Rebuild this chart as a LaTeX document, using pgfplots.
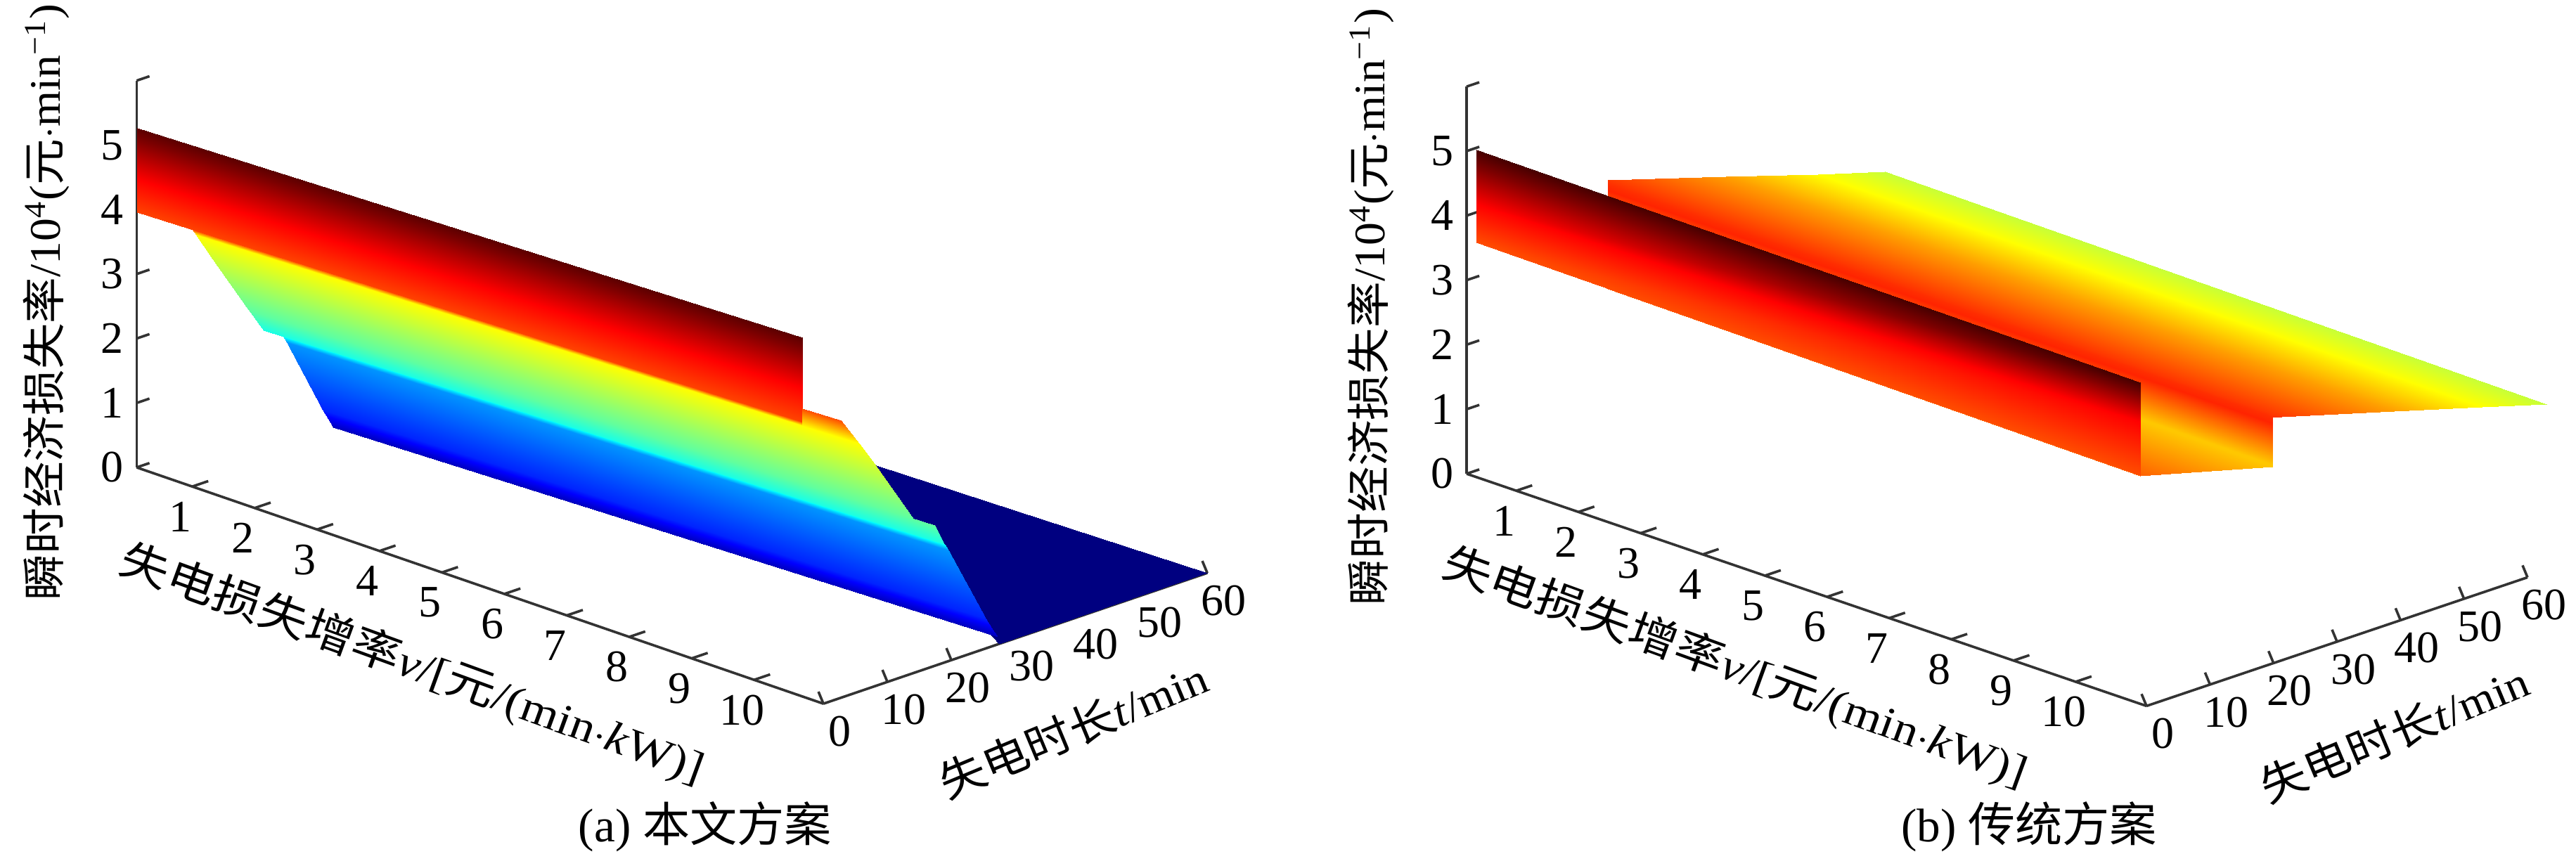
\documentclass[border=0pt]{standalone}
\usepackage{fontspec}
\usepackage{graphicx}
\usepackage{pgfplots}
\pgfplotsset{compat=1.18}
\setmainfont{Liberation Serif}
\newfontfamily\cn{Noto Sans CJK SC}

% 1 reference pixel = 0.25pt
\pgfplotsset{
  colormap={jetdark}{rgb255(0)=(0,0,128) rgb255(1)=(0,0,255) rgb255(3)=(0,255,255)
    rgb255(5)=(255,255,0) rgb255(7)=(255,0,0) rgb255(8)=(128,0,0) rgb255(8.5)=(70,0,0)},
  panel/.style={
    axis x line*=bottom, axis y line*=left, axis z line*=left,
    axis line style={draw=black!80, line width=0.9pt},
    major tick length=0pt,
    clip=false,
    ymin=0, ymax=60, zmin=0, zmax=6,
    xtick={1,...,10}, ytick={0,10,...,60}, ztick={0,...,6},
    zticklabels={0,1,2,3,4,5,},
    /pgf/number format/assume math mode=true,
    tick label style={font=\fontsize{16}{18}\selectfont},
    xticklabel style={anchor=center, xshift=-4.3pt, yshift=-10.7pt},
    yticklabel style={anchor=center, xshift=5.8pt, yshift=-9.8pt},
    zticklabel style={anchor=center, xshift=-8.7pt, yshift=0pt},
    label style={font=\fontsize{15.5}{18}\selectfont},
    colormap name=jetdark,
    point meta min=0, point meta max=1.0625,
    unbounded coords=jump,
  },
  strip/.style={surf, shader=interp, mesh/ordering=x varies, mesh/cols=2, point meta=\thisrow{c}},
  ticksegs/.style={no markers, draw=black!80, line width=0.9pt, forget plot},
}
\newcommand{\zlab}{\scalebox{1.06}[1]{{\cn 瞬时经济损失率}/10\textsuperscript{4}({\cn 元}$\cdot$min\textsuperscript{−1})}}
\newcommand{\vlab}{\scalebox{1.13}[1]{{\cn 失电损失增率}\textit{v}/[{\cn 元}/(min$\cdot$\textit{k}W)]}}
\newcommand{\tlab}{\scalebox{1.07}[1]{{\cn 失电时长}\textit{t}/min}}

\begin{document}
\begin{tikzpicture}
\path[use as bounding box] (0,0) rectangle (916pt,303.5pt);

\begin{axis}[panel, at={(48.6pt,137.25pt)}, anchor=origin,
    x={(22.2pt,-7.64pt)}, y={(2.275pt,0.775pt)}, z={(0pt,22.93pt)},
    xmin=0.11, xmax=11.11,
    xlabel={\vlab}, ylabel={\tlab}, zlabel={\zlab},
    xlabel style={at={(axis cs:4.52,0,-1.59)}, anchor=center, rotate=-20},
    ylabel style={at={(axis cs:11.11,39,-1.72)}, anchor=center, rotate=22.6},
    zlabel style={at={(axis cs:-1.34,0,2.08)}, anchor=center, rotate=0},
  ]
  % tick marks: v and z along t, t towards the reader
  \addplot3[ticksegs] coordinates {
    (1,0,0) (1,2.5,0) (1,0,nan) (2,0,0) (2,2.5,0) (2,0,nan) (3,0,0) (3,2.5,0) (3,0,nan)
    (4,0,0) (4,2.5,0) (4,0,nan) (5,0,0) (5,2.5,0) (5,0,nan) (6,0,0) (6,2.5,0) (6,0,nan)
    (7,0,0) (7,2.5,0) (7,0,nan) (8,0,0) (8,2.5,0) (8,0,nan) (9,0,0) (9,2.5,0) (9,0,nan)
    (10,0,0) (10,2.5,0)
  };
  \addplot3[ticksegs] coordinates {
    (0.11,0,0) (0.11,2,0) (0.11,0,nan) (0.11,0,1) (0.11,2,1) (0.11,0,nan)
    (0.11,0,2) (0.11,2,2) (0.11,0,nan) (0.11,0,3) (0.11,2,3) (0.11,0,nan)
    (0.11,0,4) (0.11,2,4) (0.11,0,nan) (0.11,0,5) (0.11,2,5) (0.11,0,nan)
    (0.11,0,6) (0.11,2,6)
  };
  \addplot3[ticksegs] coordinates {
    (11.11,0,0) (11.03,0,0.16) (11.11,0,nan) (11.11,10,0) (11.03,10,0.16) (11.11,0,nan)
    (11.11,20,0) (11.03,20,0.16) (11.11,0,nan) (11.11,30,0) (11.03,30,0.16) (11.11,0,nan)
    (11.11,40,0) (11.03,40,0.16) (11.11,0,nan) (11.11,50,0) (11.03,50,0.16) (11.11,0,nan)
    (11.11,60,0) (11.03,60,0.16)
  };
  % floor part, t beyond the outage boundary
  \addplot3[strip, mesh/rows=2] table {
    v t z c
    11.11 27.5 0 0
    11.11 60 0 0
    6.48 51.5 0 0
    5.96 58.5 0 0
  };
  % main sheet, left and right end of each strip
  \addplot3[strip, mesh/rows=14] table {
    v t z c
    0.12 0 5.27 1.04
    10.77 0 5.57 1.04
    0.12 0 4.47 0.875
    10.77 0 4.78 0.875
    0.12 0 3.96 0.81
    10.77 0 4.26 0.81
    1.00 0 3.99 0.81
    10.77 0 4.26 0.81
    0.86 2 3.79 0.625
    11.07 6 3.82 0.625
    0.89 4 3.40 0.58
    10.93 10 3.29 0.58
    1.08 8 2.51 0.47
    11.11 14 2.40 0.47
    1.09 8 2.50 0.47
    11.04 18 2.14 0.47
    1.12 10 2.13 0.40
    11.00 20 1.76 0.40
    1.43 10 2.13 0.375
    11.01 20 1.76 0.375
    1.39 11 2.00 0.27
    10.96 21 1.62 0.27
    1.25 18 0.67 0.16
    11.05 26 0.42 0.16
    1.23 19 0.48 0.11
    11.08 26.5 0.27 0.11
    1.21 20 0.31 0.06
    11.13 27 0.13 0.06
  };
  % piece to the right of the wall
  \addplot3[strip, mesh/rows=2] table {
    v t z c
    10.77 0 4.47 0.80
    10.88 5 4.15 0.80
    10.77 0 4.20 0.625
    11.07 6 3.82 0.625
  };
\end{axis}

\begin{axis}[panel, at={(521.5pt,135pt)}, anchor=origin,
    x={(22.1pt,-7.55pt)}, y={(2.258pt,0.7625pt)}, z={(0pt,22.95pt)},
    xmin=0.2, xmax=11.14,
    xlabel={\vlab}, ylabel={\tlab}, zlabel={\zlab},
    xlabel style={at={(axis cs:4.52,0,-1.59)}, anchor=center, rotate=-20},
    ylabel style={at={(axis cs:11.14,39,-1.72)}, anchor=center, rotate=22.6},
    zlabel style={at={(axis cs:-1.34,0,2.08)}, anchor=center, rotate=0},
  ]
  \addplot3[ticksegs] coordinates {
    (1,0,0) (1,2.5,0) (1,0,nan) (2,0,0) (2,2.5,0) (2,0,nan) (3,0,0) (3,2.5,0) (3,0,nan)
    (4,0,0) (4,2.5,0) (4,0,nan) (5,0,0) (5,2.5,0) (5,0,nan) (6,0,0) (6,2.5,0) (6,0,nan)
    (7,0,0) (7,2.5,0) (7,0,nan) (8,0,0) (8,2.5,0) (8,0,nan) (9,0,0) (9,2.5,0) (9,0,nan)
    (10,0,0) (10,2.5,0)
  };
  \addplot3[ticksegs] coordinates {
    (0.2,0,0) (0.2,2,0) (0.2,0,nan) (0.2,0,1) (0.2,2,1) (0.2,0,nan)
    (0.2,0,2) (0.2,2,2) (0.2,0,nan) (0.2,0,3) (0.2,2,3) (0.2,0,nan)
    (0.2,0,4) (0.2,2,4) (0.2,0,nan) (0.2,0,5) (0.2,2,5) (0.2,0,nan)
    (0.2,0,6) (0.2,2,6)
  };
  \addplot3[ticksegs] coordinates {
    (11.14,0,0) (11.06,0,0.16) (11.14,0,nan) (11.14,10,0) (11.06,10,0.16) (11.14,0,nan)
    (11.14,20,0) (11.06,20,0.16) (11.14,0,nan) (11.14,30,0) (11.06,30,0.16) (11.14,0,nan)
    (11.14,40,0) (11.06,40,0.16) (11.14,0,nan) (11.14,50,0) (11.06,50,0.16) (11.14,0,nan)
    (11.14,60,0) (11.06,60,0.16)
  };
  % back sheet
  \addplot3[strip, mesh/rows=9] table {
    v t z c
    2.33 45 3.89 0.57
    11.45 60 2.79 0.57
    2.07 37 4.03 0.625
    11.12 53 2.87 0.625
    1.72 26 4.24 0.72
    10.52 45 2.87 0.72
    1.45 10 4.63 0.82
    10.04 32 3.06 0.82
    1.45 10 4.57 0.83
    10.10 30 3.14 0.83
    1.45 10 4.47 0.84
    10.10 30 3.04 0.84
    1.45 10 3.84 0.68
    10.10 30 2.40 0.68
    1.45 10 3.81 0.68
    10.10 30 2.37 0.68
    1.45 10 2.94 0.78
    11.04 0 3.53 0.78
  };
  % wall at t = 0
  \addplot3[strip, mesh/rows=3] table {
    v t z c
    0.36 0 5.07 1.0625
    11.04 0 4.98 1.0625
    0.36 0 4.24 0.875
    11.04 0 4.37 0.875
    0.36 0 3.64 0.80
    11.04 0 3.54 0.80
  };
\end{axis}

\node[font=\fontsize{16.8}{18}\selectfont] at (250.75pt,9.5pt) {(a) {\cn 本文方案}};
\node[font=\fontsize{16.8}{18}\selectfont] at (721.5pt,9.5pt) {(b) {\cn 传统方案}};
\end{tikzpicture}
\end{document}
